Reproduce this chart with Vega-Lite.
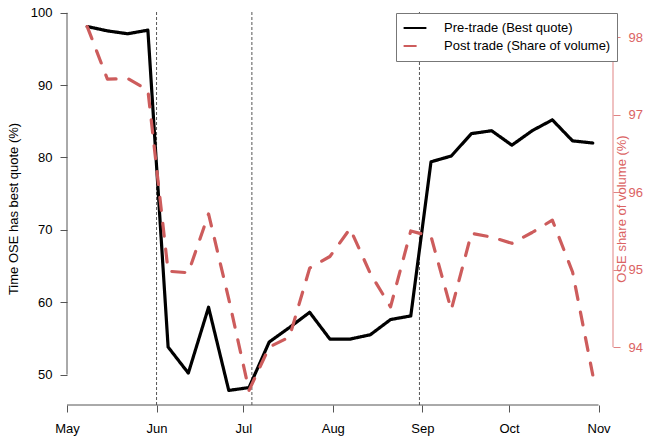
{
  "$schema": "https://vega.github.io/schema/vega-lite/v6.json",
  "width": 546,
  "height": 393,
  "autosize": {"type": "none"},
  "padding": {"left": 67, "top": 12, "right": 33, "bottom": 31},
  "background": "white",
  "config": {
    "view": {"stroke": null},
    "font": "Liberation Sans",
    "axis": {
      "grid": false,
      "labelFont": "Liberation Sans",
      "titleFont": "Liberation Sans",
      "labelFontSize": 13,
      "titleFontSize": 13,
      "titleFontWeight": "normal",
      "tickSize": 7,
      "tickWidth": 1
    }
  },
  "datasets": {
    "weekly": [
      {"date": "2010-05-08", "best_quote": 98.1, "vol_share": 98.14},
      {"date": "2010-05-15", "best_quote": 97.5, "vol_share": 97.46},
      {"date": "2010-05-22", "best_quote": 97.1, "vol_share": 97.47},
      {"date": "2010-05-29", "best_quote": 97.6, "vol_share": 97.32},
      {"date": "2010-06-05", "best_quote": 53.8, "vol_share": 94.98},
      {"date": "2010-06-12", "best_quote": 50.2, "vol_share": 94.96},
      {"date": "2010-06-19", "best_quote": 59.3, "vol_share": 95.72},
      {"date": "2010-06-26", "best_quote": 47.8, "vol_share": 94.62},
      {"date": "2010-07-03", "best_quote": 48.2, "vol_share": 93.44},
      {"date": "2010-07-10", "best_quote": 54.5, "vol_share": 94.0},
      {"date": "2010-07-17", "best_quote": 56.5, "vol_share": 94.13},
      {"date": "2010-07-24", "best_quote": 58.6, "vol_share": 95.02},
      {"date": "2010-07-31", "best_quote": 54.9, "vol_share": 95.17},
      {"date": "2010-08-07", "best_quote": 54.9, "vol_share": 95.53},
      {"date": "2010-08-14", "best_quote": 55.5, "vol_share": 94.95},
      {"date": "2010-08-21", "best_quote": 57.6, "vol_share": 94.52},
      {"date": "2010-08-28", "best_quote": 58.1, "vol_share": 95.5},
      {"date": "2010-09-04", "best_quote": 79.4, "vol_share": 95.43},
      {"date": "2010-09-11", "best_quote": 80.2, "vol_share": 94.48},
      {"date": "2010-09-18", "best_quote": 83.3, "vol_share": 95.47},
      {"date": "2010-09-25", "best_quote": 83.7, "vol_share": 95.42},
      {"date": "2010-10-02", "best_quote": 81.7, "vol_share": 95.34},
      {"date": "2010-10-09", "best_quote": 83.7, "vol_share": 95.48},
      {"date": "2010-10-16", "best_quote": 85.2, "vol_share": 95.64},
      {"date": "2010-10-23", "best_quote": 82.3, "vol_share": 94.97},
      {"date": "2010-10-30", "best_quote": 82.0, "vol_share": 93.64}
    ],
    "events": [
      {"date": "2010-06-01"},
      {"date": "2010-07-04"},
      {"date": "2010-08-31"}
    ],
    "axis_lines": [
      {"start": "2010-05-01", "end": "2010-11-01", "left_lo": 50, "left_hi": 100, "left_base": 45.79, "right_lo": 94, "right_hi": 98, "right_edge": "2010-11-06"}
    ]
  },
  "layer": [
    {
      "data": {"name": "events"},
      "mark": {"type": "rule", "color": "#555555", "strokeWidth": 1, "strokeDash": [3, 2]},
      "encoding": {
        "x": {
          "field": "date",
          "type": "temporal",
          "scale": {
            "type": "utc",
            "domain": [
              {"year": 2010, "month": 5, "date": 1, "utc": true},
              {"year": 2010, "month": 11, "date": 6, "utc": true}
            ]
          },
          "axis": {
            "title": null,
            "orient": "bottom",
            "domain": false,
            "values": [
              {"year": 2010, "month": 5, "date": 1, "utc": true},
              {"year": 2010, "month": 6, "date": 1, "utc": true},
              {"year": 2010, "month": 7, "date": 1, "utc": true},
              {"year": 2010, "month": 8, "date": 1, "utc": true},
              {"year": 2010, "month": 9, "date": 1, "utc": true},
              {"year": 2010, "month": 10, "date": 1, "utc": true},
              {"year": 2010, "month": 11, "date": 1, "utc": true}
            ],
            "labelExpr": "utcFormat(datum.value, '%b')",
            "labelFlush": false,
            "labelOverlap": false,
            "labelPadding": 10,
            "labelColor": "#000000",
            "tickColor": "#555555"
          }
        }
      }
    },
    {
      "data": {"name": "axis_lines"},
      "mark": {"type": "rule", "color": "#555555", "strokeWidth": 1},
      "encoding": {
        "x": {"field": "start", "type": "temporal"},
        "y": {"field": "left_lo", "type": "quantitative", "scale": {"domain": [45.79, 100.11], "nice": false, "zero": false}, "axis": null},
        "y2": {"field": "left_hi"}
      }
    },
    {
      "data": {"name": "axis_lines"},
      "mark": {"type": "rule", "color": "#555555", "strokeWidth": 1},
      "encoding": {
        "x": {"field": "start", "type": "temporal"},
        "x2": {"field": "end"},
        "y": {"field": "left_base", "type": "quantitative", "scale": {"domain": [45.79, 100.11], "nice": false, "zero": false}, "axis": null}
      }
    },
    {
      "data": {"name": "axis_lines"},
      "mark": {"type": "rule", "color": "#e08383", "strokeWidth": 1},
      "encoding": {
        "x": {"field": "right_edge", "type": "temporal"},
        "y": {"field": "right_lo", "type": "quantitative", "scale": {"domain": [93.252, 98.328], "nice": false, "zero": false}, "axis": null},
        "y2": {"field": "right_hi"}
      }
    },
    {
      "data": {"name": "weekly"},
      "mark": {"type": "line", "strokeWidth": 3.2, "strokeJoin": "round", "strokeCap": "round", "color": "#000000"},
      "encoding": {
        "x": {"field": "date", "type": "temporal"},
        "y": {
          "field": "best_quote",
          "type": "quantitative",
          "scale": {"domain": [45.79, 100.11], "nice": false, "zero": false},
          "axis": {
            "orient": "left",
            "title": "Time OSE has best quote (%)",
            "values": [50, 60, 70, 80, 90, 100],
            "domain": false,
            "labelAngle": 0,
            "labelAlign": "right",
            "labelBaseline": "middle",
            "labelPadding": 8,
            "labelColor": "#000000",
            "tickColor": "#555555",
            "titleColor": "#000000",
            "titleAngle": 270,
            "titleAlign": "center",
            "titleBaseline": "middle",
            "titleX": -53.3,
            "titleY": 196.5
          }
        },
        "color": {
          "datum": "Pre-trade (Best quote)",
          "type": "nominal",
          "scale": {"domain": ["Pre-trade (Best quote)", "Post trade (Share of volume)"], "range": ["#000000", "#cd5c5c"]},
          "legend": {
            "title": null,
            "orient": "none",
            "legendX": 329,
            "legendY": 1,
            "padding": 6,
            "fillColor": "white",
            "strokeColor": "#777777",
            "labelFont": "Liberation Sans",
            "labelFontSize": 13,
            "labelLimit": 400,
            "labelColor": "#000000",
            "labelOffset": 22,
            "symbolType": "M-2,0H2",
            "symbolSize": 130,
            "symbolStrokeWidth": 2,
            "symbolOffset": 6,
            "clipHeight": 18,
            "rowPadding": -4,
            "encode": {"symbols": {"update": {"strokeDash": {"signal": "datum.value === 'Post trade (Share of volume)' ? [7, 8] : [1, 0]"}}}}
          }
        },
        "strokeDash": {
          "datum": "Pre-trade (Best quote)",
          "type": "nominal",
          "scale": {"domain": ["Pre-trade (Best quote)", "Post trade (Share of volume)"], "range": [[1, 0], [13, 13]]},
          "legend": {
            "title": null,
            "orient": "none",
            "legendX": 329,
            "legendY": 1,
            "padding": 6,
            "fillColor": "white",
            "strokeColor": "#777777",
            "labelFont": "Liberation Sans",
            "labelFontSize": 13,
            "labelLimit": 400,
            "labelColor": "#000000",
            "labelOffset": 22,
            "symbolType": "M-2,0H2",
            "symbolSize": 130,
            "symbolStrokeWidth": 2,
            "symbolOffset": 6,
            "clipHeight": 18,
            "rowPadding": -4,
            "encode": {"symbols": {"update": {"strokeDash": {"signal": "datum.value === 'Post trade (Share of volume)' ? [7, 8] : [1, 0]"}}}}
          }
        }
      }
    },
    {
      "data": {"name": "weekly"},
      "mark": {"type": "line", "strokeWidth": 3.2, "strokeJoin": "round", "strokeCap": "round"},
      "encoding": {
        "x": {"field": "date", "type": "temporal"},
        "y": {
          "field": "vol_share",
          "type": "quantitative",
          "scale": {"domain": [93.252, 98.328], "nice": false, "zero": false},
          "axis": {
            "orient": "right",
            "title": "OSE share of volume (%)",
            "values": [94, 95, 96, 97, 98],
            "domain": false,
            "labelAngle": 0,
            "labelAlign": "left",
            "labelBaseline": "middle",
            "labelPadding": 8,
            "labelColor": "#db6363",
            "tickColor": "#e08383",
            "titleColor": "#db6363",
            "titleAngle": 270,
            "titleAlign": "center",
            "titleBaseline": "middle",
            "titleX": 8.5,
            "titleY": 196.5
          }
        },
        "color": {
          "datum": "Post trade (Share of volume)",
          "type": "nominal",
          "scale": {"domain": ["Pre-trade (Best quote)", "Post trade (Share of volume)"], "range": ["#000000", "#cd5c5c"]}
        },
        "strokeDash": {
          "datum": "Post trade (Share of volume)",
          "type": "nominal",
          "scale": {"domain": ["Pre-trade (Best quote)", "Post trade (Share of volume)"], "range": [[1, 0], [13, 13]]}
        }
      }
    }
  ],
  "resolve": {"scale": {"y": "independent"}, "axis": {"y": "independent"}}
}
